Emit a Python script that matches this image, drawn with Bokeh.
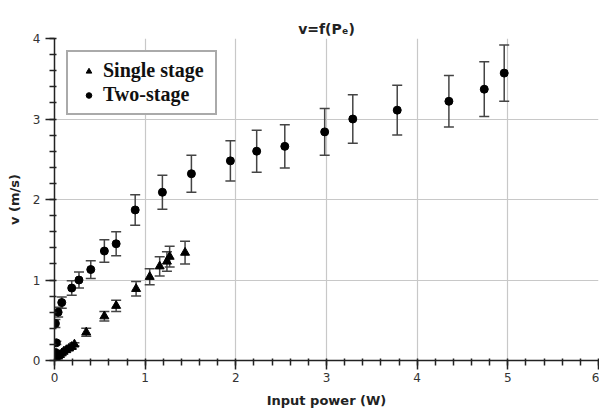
from bokeh.plotting import figure
from bokeh.models import (ColumnDataSource, Whisker, TeeHead, Range1d,
                          SingleIntervalTicker)
from bokeh.embed import file_html
from bokeh.resources import INLINE

# ---- data ----
single_x = [0.005, 0.02, 0.04, 0.06, 0.08, 0.10, 0.13, 0.16, 0.19, 0.22,
            0.35, 0.55, 0.68, 0.90, 1.05, 1.16, 1.24, 1.27, 1.44]
single_y = [0.01, 0.03, 0.05, 0.07, 0.09, 0.11, 0.13, 0.15, 0.17, 0.20,
            0.35, 0.55, 0.68, 0.89, 1.04, 1.17, 1.23, 1.29, 1.34]
single_err = [0.0, 0.0, 0.0, 0.01, 0.01, 0.01, 0.01, 0.02, 0.02, 0.02,
              0.05, 0.06, 0.07, 0.09, 0.10, 0.12, 0.12, 0.13, 0.14]

two_x = [0.005, 0.01, 0.02, 0.01, 0.04, 0.08, 0.19, 0.27, 0.40, 0.55, 0.68,
         0.89, 1.19, 1.51, 1.94, 2.23, 2.54, 2.98, 3.29, 3.78, 4.35, 4.74, 4.96]
two_y = [0.03, 0.10, 0.22, 0.46, 0.60, 0.72, 0.90, 1.00, 1.13, 1.36, 1.45,
         1.87, 2.09, 2.32, 2.48, 2.60, 2.66, 2.84, 3.00, 3.11, 3.22, 3.37, 3.57]
two_err = [0.0, 0.01, 0.02, 0.05, 0.06, 0.07, 0.09, 0.10, 0.11, 0.14, 0.15,
           0.19, 0.21, 0.23, 0.25, 0.26, 0.27, 0.29, 0.30, 0.31, 0.32, 0.34, 0.35]

title_text = "v=f(Pₑ)"
x_label = "Input power (W)"
y_label = "v (m/s)"
single_label = "Single stage"
two_label = "Two-stage"

src_s = ColumnDataSource(dict(x=single_x, y=single_y,
                              up=[a + b for a, b in zip(single_y, single_err)],
                              lo=[a - b for a, b in zip(single_y, single_err)]))
src_t = ColumnDataSource(dict(x=two_x, y=two_y,
                              up=[a + b for a, b in zip(two_y, two_err)],
                              lo=[a - b for a, b in zip(two_y, two_err)]))

p = figure(width=599, height=413, output_backend="svg", toolbar_location=None,
           x_range=Range1d(0, 6), y_range=Range1d(0, 4),
           min_border_left=54, min_border_right=1, min_border_top=38,
           min_border_bottom=53)
p.outline_line_color = None
p.background_fill_color = "white"
p.border_fill_color = "white"

p.title.text = title_text
p.title.align = "center"
p.title.text_font = "DejaVu Sans"
p.title.text_font_style = "bold"
p.title.text_font_size = "14px"
p.title.text_color = "#222"
p.title.standoff = 4

err_color = "#444444"
for src in (src_s, src_t):
    w = Whisker(base="x", upper="up", lower="lo", source=src,
                dimension="height", line_color=err_color, line_width=1.5,
                upper_head=TeeHead(size=10, line_color=err_color, line_width=1.5),
                lower_head=TeeHead(size=10, line_color=err_color, line_width=1.5))
    p.add_layout(w)

p.scatter("x", "y", source=src_s, marker="triangle", size=9,
          fill_color="#000", line_color="#000", legend_label=single_label)
p.scatter("x", "y", source=src_t, marker="circle", size=8,
          fill_color="#000", line_color="#000", legend_label=two_label)

for ax in (p.xaxis, p.yaxis):
    ax.axis_line_color = "#222"
    ax.axis_line_width = 1.5
    ax.major_tick_line_color = "#222"
    ax.minor_tick_line_color = "#222"
    ax.major_tick_line_width = 1.5
    ax.minor_tick_line_width = 1.5
    ax.major_tick_in = 0
    ax.major_tick_out = 9
    ax.minor_tick_in = 2
    ax.minor_tick_out = 5
    ax.major_label_text_font = "DejaVu Sans"
    ax.major_label_text_font_size = "12px"
    ax.major_label_text_color = "#333"
    ax.axis_label_text_font = "DejaVu Sans"
    ax.axis_label_text_font_style = "bold"
    ax.axis_label_text_font_size = "13px"
    ax.axis_label_text_color = "#222"

p.xaxis.ticker = SingleIntervalTicker(interval=1, num_minor_ticks=5)
p.yaxis.ticker = SingleIntervalTicker(interval=1, num_minor_ticks=5)
p.xaxis.axis_label = x_label
p.yaxis.axis_label = y_label
p.xaxis.major_label_standoff = 3
p.yaxis.major_label_standoff = 5
p.xaxis.axis_label_standoff = 8
p.yaxis.axis_label_standoff = 8

p.xgrid.grid_line_color = "#c8c8c8"
p.ygrid.grid_line_color = "#c8c8c8"
p.xgrid.grid_line_width = 1.2
p.ygrid.grid_line_width = 1.2

lg = p.legend[0]
lg.location = "top_left"
lg.margin = 12
lg.padding = 7
lg.glyph_width = 27
lg.glyph_height = 14
lg.label_height = 21
lg.spacing = 1
lg.label_standoff = 1
lg.label_width = 105
lg.border_line_color = "#555"
lg.border_line_width = 2
lg.background_fill_color = "white"
lg.background_fill_alpha = 1.0
lg.label_text_font = "Liberation Serif"
lg.label_text_font_style = "bold"
lg.label_text_font_size = "20px"
lg.label_text_color = "#111"

open("out.html", "w").write(file_html(p, INLINE))
